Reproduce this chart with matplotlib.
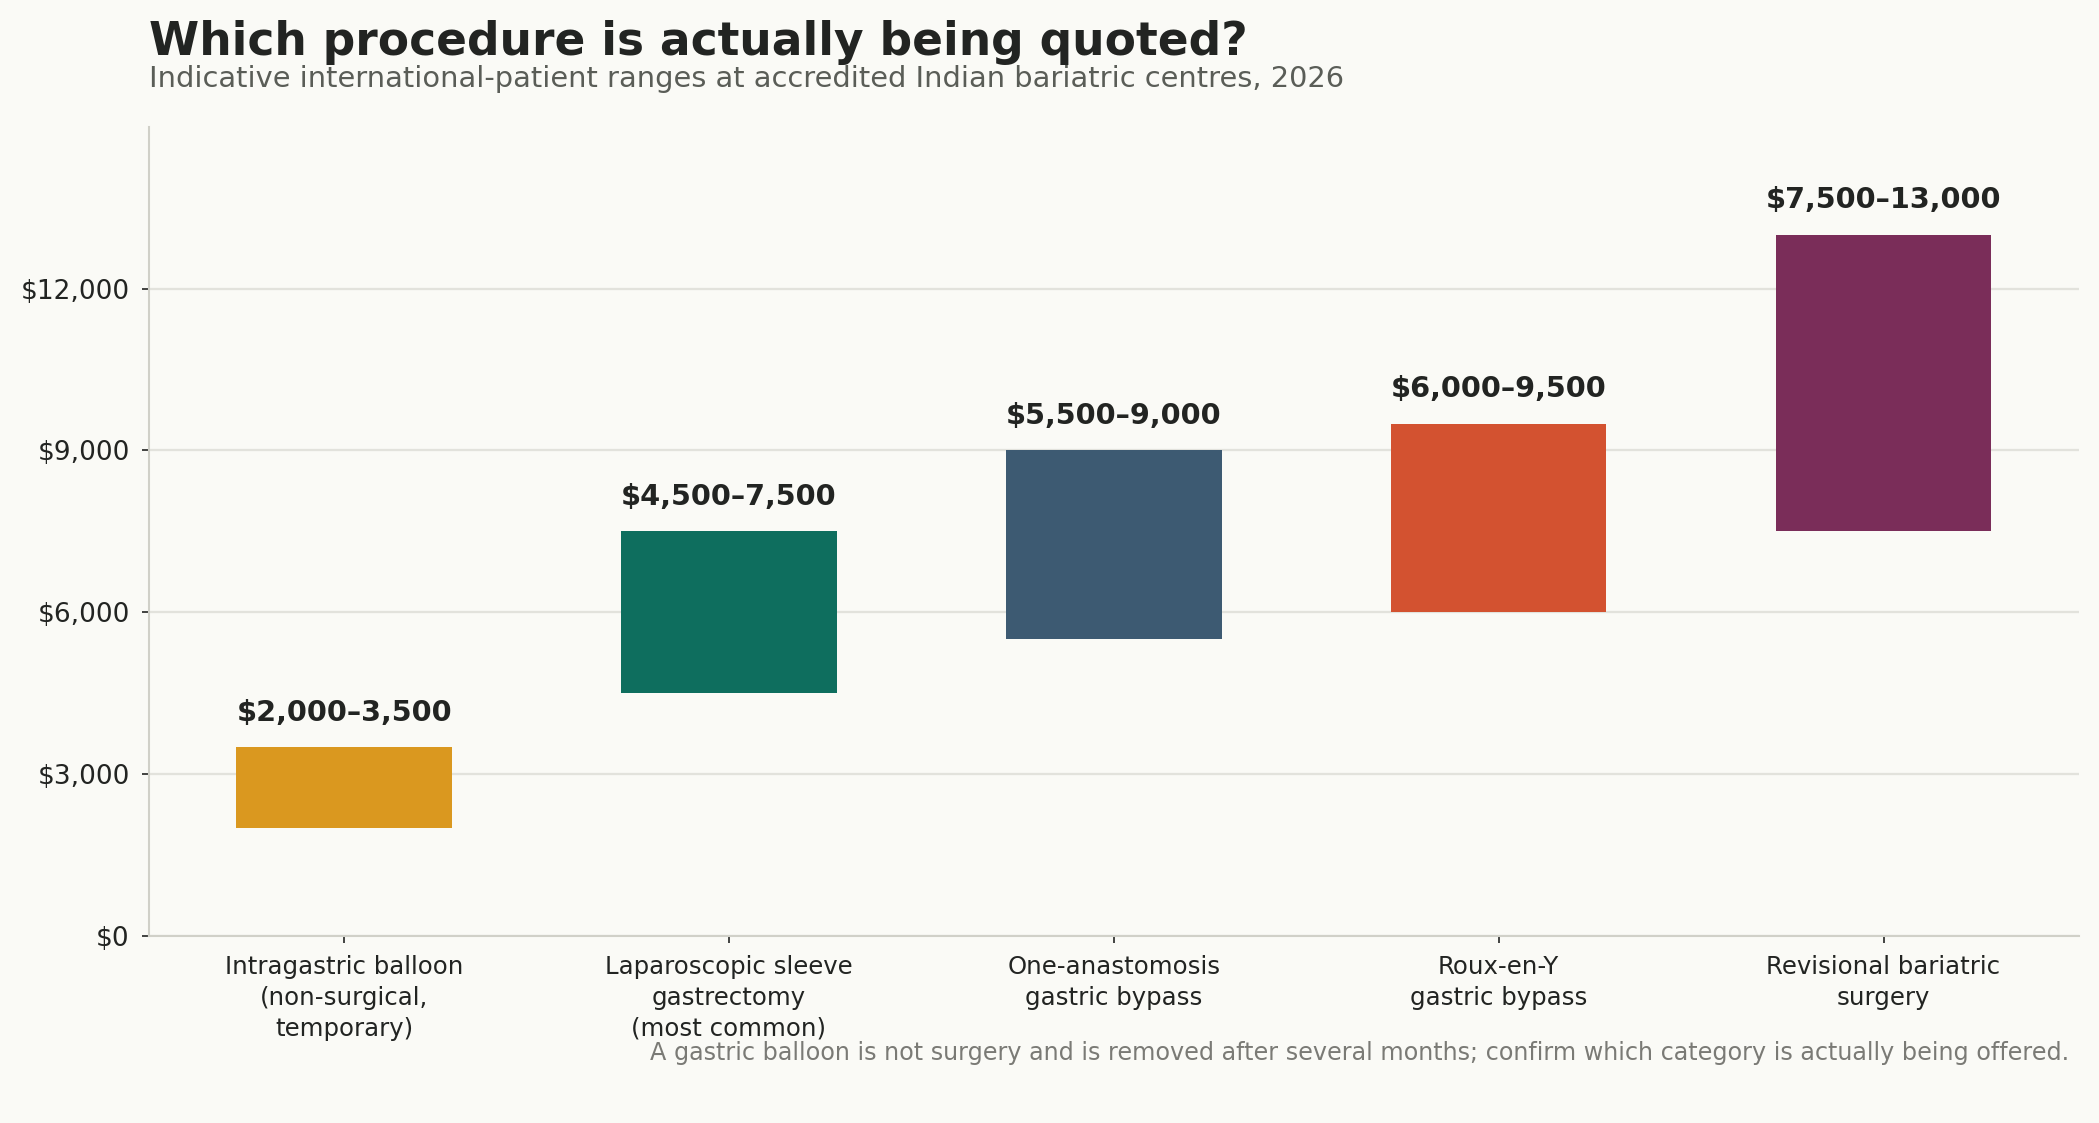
import matplotlib
matplotlib.use('Agg')
import matplotlib.pyplot as plt
from matplotlib.ticker import FuncFormatter

procedures = [
    'Intragastric balloon\n(non-surgical,\ntemporary)',
    'Laparoscopic sleeve\ngastrectomy\n(most common)',
    'One-anastomosis\ngastric bypass',
    'Roux-en-Y\ngastric bypass',
    'Revisional bariatric\nsurgery',
]
low_usd = [2000, 4500, 5500, 6000, 7500]
high_usd = [3500, 7500, 9000, 9500, 13000]
bar_colors = ['#DA981F', '#0E6E5E', '#3D5A72', '#D35230', '#7A2D59']
y_ticks = [0, 3000, 6000, 9000, 12000]

BG = '#FAFAF6'
INK = '#222422'

fig = plt.figure(figsize=(2099 / 150, 1123 / 150), dpi=150, facecolor=BG)
ax = fig.add_axes([0.0708, 0.1668, 0.9197, 0.7201])
ax.set_facecolor(BG)

x = list(range(len(procedures)))
heights = [h - l for l, h in zip(low_usd, high_usd)]
ax.bar(x, heights, bottom=low_usd, width=0.56, color=bar_colors, zorder=3)

for xi, lo, hi in zip(x, low_usd, high_usd):
    ax.text(xi, hi + 380, f'${lo:,}\u2013{hi:,}', ha='center', va='bottom',
            fontsize=13.8, fontweight='bold', color=INK, zorder=4)

ax.set_xlim(-0.508, 4.508)
ax.set_ylim(0, 15000)
ax.set_yticks(y_ticks)
ax.yaxis.set_major_formatter(FuncFormatter(lambda v, p: f'${v:,.0f}'))
ax.set_xticks(x)
ax.set_xticklabels(procedures, fontsize=11.7, color=INK, linespacing=1.35)
ax.tick_params(axis='y', labelsize=12.7, labelcolor=INK, color=INK, length=3.5, pad=5.5)
ax.tick_params(axis='x', color=INK, length=3.5, pad=6)

ax.grid(axis='y', color='#E2E2DC', linewidth=1.1, zorder=0)
ax.set_axisbelow(True)
for side in ['top', 'right']:
    ax.spines[side].set_visible(False)
for side in ['left', 'bottom']:
    ax.spines[side].set_color('#D0D0C8')
    ax.spines[side].set_linewidth(1.0)

fig.text(0.0708, 0.951, 'Which procedure is actually being quoted?',
         fontsize=21.85, fontweight='bold', color=INK, ha='left', va='baseline')
fig.text(0.0708, 0.9225,
         'Indicative international-patient ranges at accredited Indian bariatric centres, 2026',
         fontsize=13.85, color='#5A5D57', ha='left', va='baseline')
fig.text(0.986, 0.056,
         'A gastric balloon is not surgery and is removed after several months; '
         'confirm which category is actually being offered.',
         fontsize=11.45, color='#7A7A75', ha='right', va='baseline')

fig.savefig('out.png', dpi=150, facecolor=BG)
